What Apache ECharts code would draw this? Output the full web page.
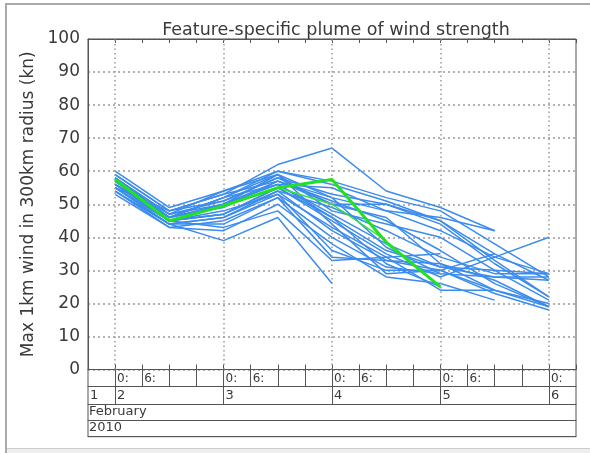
<!DOCTYPE html>
<html>
<head>
<meta charset="utf-8">
<script src="https://cdn.jsdelivr.net/npm/echarts@6/dist/echarts.min.js"></script>
<style>
html,body{margin:0;padding:0;background:#fff;}
#wrap{position:relative;width:590px;height:453px;overflow:hidden;}
#chart{position:absolute;left:0;top:0;width:590px;height:453px;}
#ftop{position:absolute;left:5px;top:3px;width:585px;height:2px;background:#aaa;}
#fleft{position:absolute;left:5px;top:3px;width:2px;height:450px;background:#aaa;}
#fbot{position:absolute;left:7px;top:448px;width:583px;height:5px;background:#eee;border-top:1px solid #ccc;}
</style>
</head>
<body>
<div id="wrap">
<div id="chart"></div>
<div id="ftop"></div><div id="fleft"></div><div id="fbot"></div>
</div>
<script>
// Time of each plume point, hours after 2 Feb 2010 00:00
const hours = [0, 12, 24, 36, 48, 60, 72, 84, 96];
// Day boundaries (hours) and tick labels of the date table
const dayHours = [0, 24, 48, 72, 96];
const dayLabelHours = [-6, 0, 24, 48, 72, 96];
const dayNumbers = ['1', '2', '3', '4', '5', '6'];
const monthLabel = 'February';
const yearLabel = '2010';
const yTicks = [0, 10, 20, 30, 40, 50, 60, 70, 80, 90, 100];

// Ensemble members (kn), null = feature no longer tracked
const m1  = [59, 48, 53, 62, 67, 54, 49, 42, null];
const m2  = [58, 47, 54, 60, 57, 52, 48, 38, 28];
const m3  = [57, 46, 52, 60, 56, 51, 45, 35, 27];
const m4  = [56, 47, 51, 58, 50, 50, 44, 32, 22];
const m5  = [55, 48, 53, 57, 52, 48, 42, 34, 29];
const m6  = [58, 45, 50, 59, 48, 44, 40, 30, 21];
const m7  = [56, 45, 47, 55, 45, 35, 28, 34, 40];
const m8  = [55, 44, 46, 54, 42, 33, 30, 35, null];
const m9  = [57, 46, 52, 56, 47, 38, 31, 30, 29];
const m10 = [54, 43, 45, 52, 40, 31, 29, 28, 28];
const m11 = [58, 47, 50, 57, 51, 45, 36, 26, 19];
const m12 = [56, 45, 48, 53, 36, 30, 30, 23, 18];
const m13 = [55, 44, 44, 52, 34, 33, 32, 24, 20];
const m14 = [53, 43, 42, 50, 38, 28, 26, 21, null];
const m15 = [54, 44, 39, 46, 26, null, null, null, null];
const m16 = [56, 45, 43, 48, 33, 34, 35, null, null];
const m17 = [57, 46, 50, 56, 46, 36, 31, 28, 27];
const m18 = [59, 48, 51, 58, 53, 50, 45, 33, 22];
const m19 = [55, 45, 47, 54, 49, 42, 34, 29, 29];
const m20 = [56, 46, 49, 57, 50, 46, 32, 27, 19];
const m21 = [54, 44, 46, 53, 43, 34, 24, 24, 19];
const m22 = [57, 45, 50, 56, 55, 48, 46, 42, null];
const m23 = [58, 46, 52, 59, 52, 37, 29, null, null];
const m24 = [55, 45, 47, 55, 46, 32, 25, null, null];
const m25 = [60, 49, 54, 59, 44, 29, 30, 24, null];
const members = [m1,m2,m3,m4,m5,m6,m7,m8,m9,m10,m11,m12,m13,m14,m15,m16,m17,m18,m19,m20,m21,m22,m23,m24,m25];

// Highlighted (green) tracks
const greenMain = [57.5, 45, 49.5, 55, 57.5, 38.5, 25, null, null];
const greenThin = [null, null, null, 55, 50, 39, null, null, null];

function toPairs(vals){
  const out = [];
  vals.forEach((v, i) => { if (v !== null) out.push([hours[i], v]); });
  return out;
}

const FONT = 'DejaVu Sans';
const AX = '#555';
const TXT = '#3a3a3a';
const XMIN = -6, XMAX = 102;

function tableAxis(extra){
  return Object.assign({
    type: 'value', gridIndex: 0, position: 'bottom', min: XMIN, max: XMAX, interval: 6,
    axisLine: {show: true, onZero: false, lineStyle: {color: AX, width: 1}},
    axisTick: {show: false}, axisLabel: {show: false}, splitLine: {show: false}
  }, extra);
}

const series = [];
series.push({
  type: 'line', data: [], z: 1, silent: true,
  markLine: {
    silent: true, symbol: 'none', label: {show: false},
    lineStyle: {color: '#999', type: [1.5, 3], width: 1.5},
    data: dayHours.map(h => ({xAxis: h}))
  }
});
members.forEach(m => series.push({
  type: 'line', data: toPairs(m), symbol: 'none', z: 3,
  lineStyle: {color: '#3b8ced', width: 1.5}, silent: true
}));
series.push({type: 'line', data: toPairs(greenThin), symbol: 'none', z: 4,
  lineStyle: {color: '#33e033', width: 1.4}, silent: true});
series.push({type: 'line', data: toPairs(greenMain), symbol: 'none', z: 5,
  lineStyle: {color: '#22e022', width: 3}, silent: true});

const chart = echarts.init(document.getElementById('chart'), null, {renderer: 'canvas'});
chart.setOption({
  animation: false,
  backgroundColor: 'transparent',
  title: {
    text: 'Feature-specific plume of wind strength',
    left: 331, top: 16, textAlign: 'center',
    textStyle: {fontFamily: FONT, fontSize: 17.5, fontWeight: 'normal', color: TXT}
  },
  grid: [
    {left: 88, top: 39, width: 488, height: 330.5, show: true, borderColor: AX, borderWidth: 1, backgroundColor: 'transparent'},
    {left: 88, top: 369.5, width: 488, height: 67.2, show: true, borderColor: AX, borderWidth: 1, backgroundColor: 'transparent'}
  ],
  xAxis: [
    tableAxis({axisTick: {show: true, inside: true, length: 5, lineStyle: {color: AX}}}),
    tableAxis({position: 'top', axisTick: {show: true, inside: true, length: 4, lineStyle: {color: AX}}}),
    tableAxis({
      axisTick: {show: true, inside: false, length: 17.2, lineStyle: {color: AX}},
      axisLabel: {show: true, showMaxLabel: false, showMinLabel: false, margin: 3, align: 'left', padding: [0,0,0,2],
        fontFamily: FONT, fontSize: 12, color: TXT,
        formatter: v => { const h = ((v % 24) + 24) % 24; return h === 0 ? '0:' : (h === 6 ? '6:' : ''); }}
    }),
    tableAxis({offset: 17.2,
      axisTick: {show: true, inside: false, length: 17.6, customValues: dayHours, lineStyle: {color: AX}},
      axisLabel: {show: true, customValues: dayLabelHours, margin: 2, align: 'left', padding: [0,0,0,2],
        fontFamily: FONT, fontSize: 13, color: TXT,
        formatter: v => dayNumbers[dayLabelHours.indexOf(v)] || ''}
    }),
    tableAxis({offset: 34.8,
      axisLabel: {show: true, customValues: [XMIN], margin: 1, align: 'left', padding: [0,0,0,1],
        fontFamily: FONT, fontSize: 13, color: TXT, formatter: () => monthLabel}
    }),
    tableAxis({offset: 50.5,
      axisLabel: {show: true, customValues: [XMIN], margin: 1, align: 'left', padding: [0,0,0,1],
        fontFamily: FONT, fontSize: 13, color: TXT, formatter: () => yearLabel}
    }),
    tableAxis({offset: 67.2}),
    {type: 'value', gridIndex: 1, show: false, min: 0, max: 1}
  ],
  yAxis: [
    {
      type: 'value', gridIndex: 0, min: yTicks[0], max: yTicks[yTicks.length - 1], interval: 10,
      name: 'Max 1km wind in 300km radius (kn)', nameLocation: 'middle', nameGap: 50,
      nameTextStyle: {fontFamily: FONT, fontSize: 17, color: TXT},
      axisLine: {show: true, onZero: false, lineStyle: {color: AX}},
      axisTick: {show: false},
      axisLabel: {margin: 8, fontFamily: FONT, fontSize: 17, color: TXT},
      splitLine: {show: true, lineStyle: {color: '#999', type: [2, 3], width: 1.5}}
    },
    {type: 'value', gridIndex: 1, show: false, min: 0, max: 1}
  ],
  series: series
});
</script>
</body>
</html>
